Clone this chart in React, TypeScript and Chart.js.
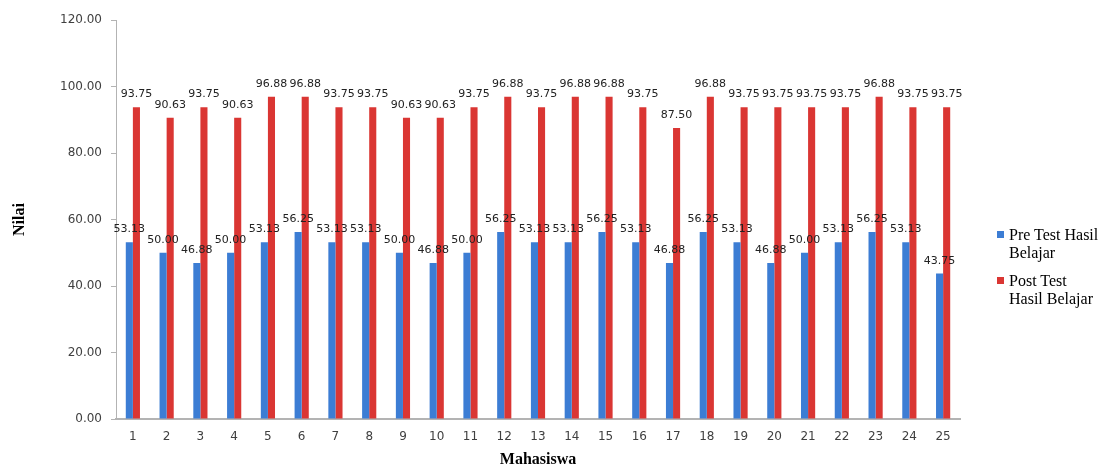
import React, { useEffect, useRef } from "react";
import { Chart, registerables } from "chart.js";

Chart.register(...registerables);

const categories = ["1","2","3","4","5","6","7","8","9","10","11","12","13","14","15","16","17","18","19","20","21","22","23","24","25"];
const preTest = [53.13,50.0,46.88,50.0,53.13,56.25,53.13,53.13,50.0,46.88,50.0,56.25,53.13,53.13,56.25,53.13,46.88,56.25,53.13,46.88,50.0,53.13,56.25,53.13,43.75];
const postTest = [93.75,90.63,93.75,90.63,96.88,96.88,93.75,93.75,90.63,90.63,93.75,96.88,93.75,96.88,96.88,93.75,87.5,96.88,93.75,93.75,93.75,93.75,96.88,93.75,93.75];
const seriesNames = ["Pre Test Hasil Belajar", "Post Test Hasil Belajar"];
const legendLines = [["Pre Test Hasil", "Belajar"], ["Post Test", "Hasil Belajar"]];
const yTicks = [0, 20, 40, 60, 80, 100, 120];
const BLUE = "#3C7DD4";
const RED = "#DA3633";

const dataLabelPlugin = {
  id: "dataLabels",
  afterDatasetsDraw(chart: any) {
    const ctx = chart.ctx;
    ctx.save();
    ctx.font = "11px 'DejaVu Sans'";
    ctx.fillStyle = "#222222";
    ctx.textAlign = "center";
    ctx.textBaseline = "alphabetic";
    chart.data.datasets.forEach((ds: any, di: number) => {
      const meta = chart.getDatasetMeta(di);
      meta.data.forEach((bar: any, i: number) => {
        const v = ds.data[i] as number;
        ctx.fillText(v.toFixed(2), bar.x, bar.y - 10);
      });
    });
    ctx.restore();
  },
};

export default function App() {
  const ref = useRef<HTMLCanvasElement | null>(null);
  useEffect(() => {
    document.body.style.margin = "0";
    if (!ref.current) return;
    const chart = new Chart(ref.current, {
      type: "bar",
      data: {
        labels: categories,
        datasets: [
          { label: seriesNames[0], data: preTest, backgroundColor: BLUE, categoryPercentage: 0.42, barPercentage: 1 },
          { label: seriesNames[1], data: postTest, backgroundColor: RED, categoryPercentage: 0.42, barPercentage: 1 },
        ],
      },
      options: {
        responsive: false,
        animation: false,
        layout: { padding: { top: 20, right: 144, left: 0, bottom: 0 } },
        plugins: { legend: { display: false }, tooltip: { enabled: false } },
        scales: {
          x: {
            grid: { display: false, drawTicks: false },
            border: { display: true, color: "#B3B3B3", width: 2 },
            ticks: { color: "#404040", font: { family: "'DejaVu Sans'", size: 12 }, padding: 11, maxRotation: 0, autoSkip: false },
            title: { display: true, text: "Mahasiswa", color: "#000", font: { family: "'Liberation Serif'", size: 16, weight: "bold", lineHeight: 1 }, padding: { top: 0, bottom: 0 } },
            afterFit: (s: any) => { s.height = 49; },
          },
          y: {
            min: 0,
            max: 120,
            afterBuildTicks: (s: any) => { s.ticks = yTicks.map((v) => ({ value: v })); },
            grid: { display: true, drawOnChartArea: false, drawTicks: true, tickLength: 5, tickColor: "#B3B3B3" },
            border: { display: true, color: "#B3B3B3", width: 1 },
            ticks: { color: "#404040", font: { family: "'DejaVu Sans'", size: 12 }, padding: 9, callback: (v: any) => Number(v).toFixed(2) },
            title: { display: true, text: "Nilai", color: "#000", font: { family: "'Liberation Serif'", size: 16, weight: "bold", lineHeight: 1 }, padding: { top: 12, bottom: 0 } },
            afterFit: (s: any) => { s.width = 116; },
          },
        },
      },
      plugins: [dataLabelPlugin],
    });
    return () => chart.destroy();
  }, []);

  const colors = [BLUE, RED];
  const tops = [226, 272];
  return (
    <div style={{ position: "relative", width: 1104, height: 468, background: "#fff" }}>
      <canvas ref={ref} width={1104} height={468} style={{ display: "block" }} />
      {legendLines.map((lines, i) => (
        <div key={i} style={{ position: "absolute", left: 997, top: tops[i], fontFamily: "'Liberation Serif'", fontSize: 16, lineHeight: "18px", color: "#000" }}>
          <span style={{ position: "absolute", left: 0, top: 5, width: 7, height: 7, background: colors[i] }} />
          <div style={{ marginLeft: 12, whiteSpace: "nowrap" }}>
            {lines.map((l, j) => (<div key={j}>{l}</div>))}
          </div>
        </div>
      ))}
    </div>
  );
}
